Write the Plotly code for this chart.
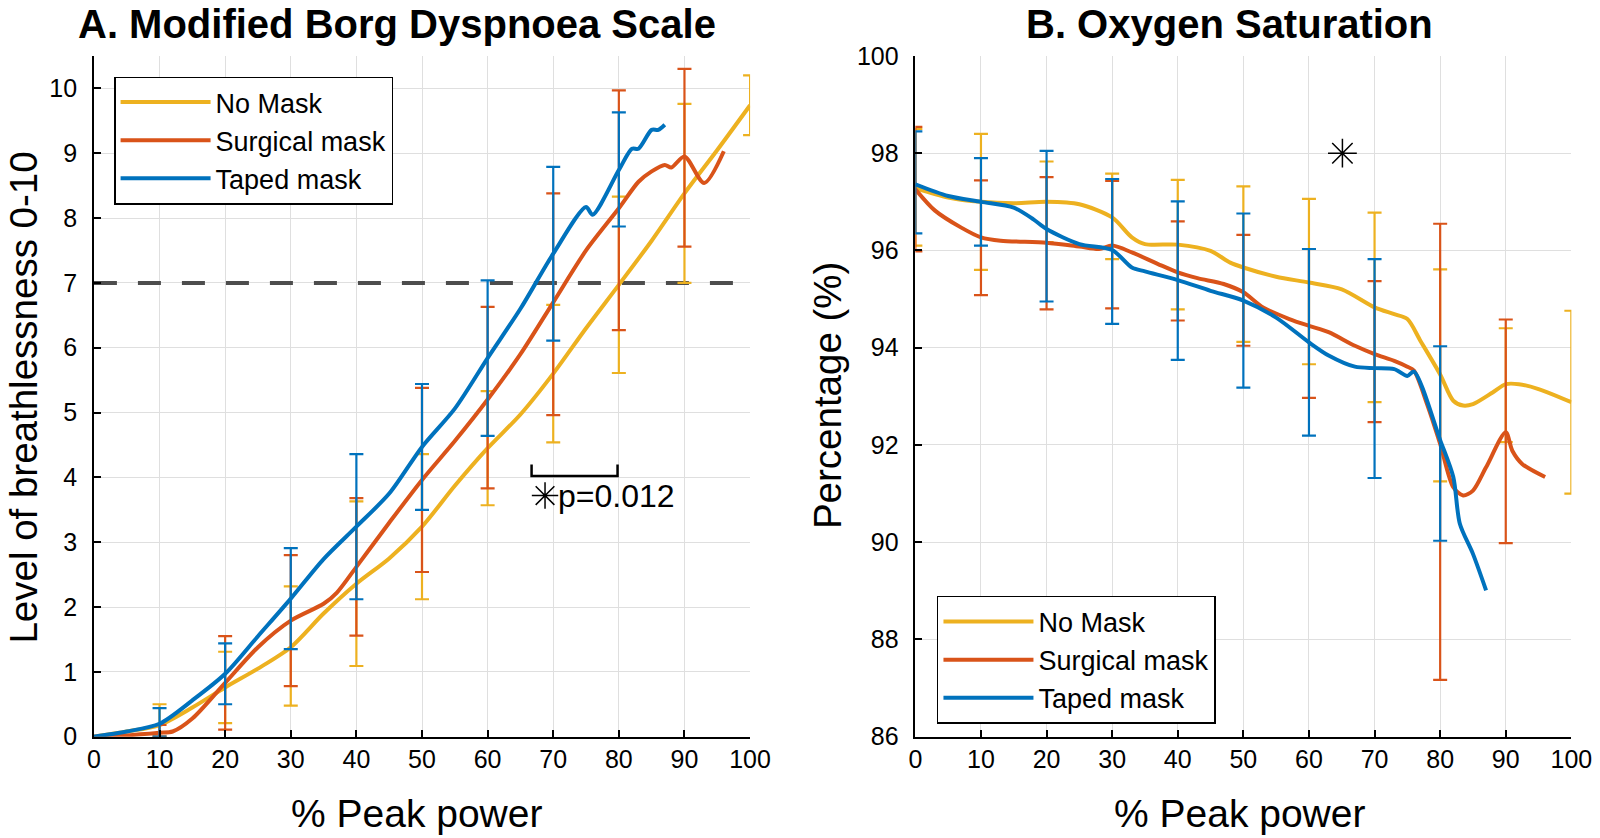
import plotly.graph_objects as go

# ---------------- Panel A: Modified Borg Dyspnoea Scale ----------------
borg_nomask_x = [0, 5, 10, 15, 20, 25, 30, 35, 40, 45, 50, 55, 60, 65, 70, 75, 80, 85, 90, 95, 100]
borg_nomask_y = [0, 0.08, 0.18, 0.45, 0.76, 1.05, 1.38, 1.9, 2.36, 2.75, 3.24, 3.87, 4.45, 4.97, 5.6, 6.3, 6.97, 7.65, 8.38, 9.05, 9.74]

borg_surg_x = [0, 5, 10, 12, 15, 20, 25, 30, 35, 37, 40, 45, 50, 55, 60, 65, 70, 75, 80, 83, 85, 87, 88, 90, 93, 96]
borg_surg_y = [0, 0.02, 0.06, 0.08, 0.28, 0.83, 1.38, 1.79, 2.05, 2.22, 2.62, 3.3, 3.96, 4.56, 5.2, 5.9, 6.7, 7.5, 8.15, 8.56, 8.72, 8.82, 8.78, 8.95, 8.54, 9.03]

borg_taped_x = [0, 5, 10, 15, 20, 25, 30, 35, 40, 45, 50, 55, 60, 65, 70, 75, 76, 80, 82, 83, 85, 86, 87]
borg_taped_y = [0, 0.08, 0.2, 0.56, 0.97, 1.55, 2.13, 2.74, 3.24, 3.75, 4.47, 5.06, 5.84, 6.6, 7.45, 8.17, 8.05, 8.74, 9.07, 9.07, 9.36, 9.36, 9.44]

borg_err_nomask_x = [10, 20, 30, 40, 50, 60, 70, 80, 90, 100]
borg_err_nomask_m = [0.18, 0.76, 1.40, 2.36, 3.24, 4.45, 5.60, 6.97, 8.38, 9.74]
borg_err_nomask_up = [0.32, 0.55, 0.92, 1.27, 1.12, 0.88, 1.06, 1.36, 1.38, 0.46]
borg_err_nomask_dn = [0.18, 0.55, 0.92, 1.27, 1.12, 0.88, 1.06, 1.36, 1.38, 0.46]

borg_err_surg_x = [10, 20, 30, 40, 50, 60, 70, 80, 90]
borg_err_surg_m = [0.06, 0.83, 1.79, 2.62, 3.96, 5.23, 6.67, 8.12, 8.93]
borg_err_surg_up = [0.12, 0.72, 1.01, 1.06, 1.42, 1.40, 1.71, 1.85, 1.37]
borg_err_surg_dn = [0.06, 0.72, 1.01, 1.06, 1.42, 1.40, 1.71, 1.85, 1.37]

borg_err_taped_x = [10, 20, 30, 40, 50, 60, 70, 80]
borg_err_taped_m = [0.20, 0.97, 2.13, 3.24, 4.47, 5.84, 7.45, 8.75]
borg_err_taped_up = [0.24, 0.47, 0.78, 1.12, 0.97, 1.20, 1.34, 0.88]
borg_err_taped_dn = [0.20, 0.47, 0.78, 1.12, 0.97, 1.20, 1.34, 0.88]

borg_threshold = 7
bracket_x = [66.7, 66.7, 79.8, 79.8]
bracket_y = [4.2, 4.02, 4.02, 4.2]
borg_star_x = [68.75]
borg_star_y = [3.72]
p_label = "p=0.012"

# ---------------- Panel B: Oxygen Saturation ----------------
spo2_nomask_x = [0, 5, 10, 15, 20, 25, 30, 33, 35, 40, 45, 48, 50, 55, 60, 65, 70, 73, 75, 77, 80, 82, 83.5, 85, 88, 90, 92, 95, 100]
spo2_nomask_y = [97.28, 97.09, 97.0, 96.97, 97.0, 96.95, 96.68, 96.27, 96.13, 96.12, 95.99, 95.75, 95.65, 95.46, 95.34, 95.2, 94.83, 94.69, 94.59, 94.14, 93.45, 92.91, 92.81, 92.84, 93.08, 93.25, 93.25, 93.15, 92.88]

spo2_surg_x = [0, 3, 7, 10, 13, 20, 25, 28, 30, 33, 37, 40, 43, 47, 50, 53, 57, 60, 63, 67, 70, 73, 75, 76, 78, 80, 82, 83.5, 85, 87, 90, 91, 92.5, 96]
spo2_surg_y = [97.26, 96.82, 96.47, 96.27, 96.2, 96.16, 96.08, 96.03, 96.1, 95.96, 95.72, 95.55, 95.43, 95.31, 95.14, 94.83, 94.59, 94.45, 94.32, 94.04, 93.87, 93.73, 93.61, 93.53, 92.84, 92.02, 91.13, 90.96, 91.06, 91.54, 92.26, 91.88, 91.61, 91.34]

spo2_taped_x = [0, 5, 10, 15, 18, 20, 25, 30, 33, 35, 40, 45, 50, 55, 60, 63, 67, 70, 73, 75, 76, 80, 82, 83, 85, 87]
spo2_taped_y = [97.36, 97.12, 97.0, 96.88, 96.64, 96.44, 96.13, 96.01, 95.65, 95.57, 95.39, 95.17, 94.97, 94.62, 94.11, 93.84, 93.61, 93.58, 93.56, 93.42, 93.51, 92.1, 91.34, 90.38, 89.76, 89.01]

spo2_err_nomask_x = [0, 10, 20, 30, 40, 50, 60, 70, 80, 90, 100]
spo2_err_nomask_m = [97.3, 97.0, 97.0, 96.7, 96.12, 95.72, 95.36, 94.83, 93.43, 93.23, 92.88]
spo2_err_nomask_e = [1.2, 1.4, 0.83, 0.88, 1.33, 1.6, 1.7, 1.95, 2.18, 1.17, 1.88]

spo2_err_surg_x = [0, 10, 20, 30, 40, 50, 60, 70, 80, 90]
spo2_err_surg_m = [97.26, 96.26, 96.15, 96.12, 95.58, 95.18, 94.5, 93.92, 91.86, 92.28]
spo2_err_surg_e = [1.28, 1.18, 1.36, 1.31, 1.02, 1.14, 1.53, 1.45, 4.69, 2.3]

spo2_err_taped_x = [0, 10, 20, 30, 40, 50, 60, 70, 80]
spo2_err_taped_m = [97.4, 97.0, 96.5, 95.98, 95.38, 94.97, 94.11, 93.57, 92.03]
spo2_err_taped_e = [1.05, 0.9, 1.55, 1.49, 1.63, 1.79, 1.92, 2.25, 2.0]

spo2_star_x = [65.1]
spo2_star_y = [98.0]

series_names = ["No Mask", "Surgical mask", "Taped mask"]
colors = ["#EDB120", "#D95319", "#0072BD"]

x_ticks = [0, 10, 20, 30, 40, 50, 60, 70, 80, 90, 100]
borg_ticks = [0, 1, 2, 3, 4, 5, 6, 7, 8, 9, 10]
spo2_ticks = [86, 88, 90, 92, 94, 96, 98, 100]

FONT = "Liberation Sans, Arial, Helvetica, sans-serif"
LW = 4

fig = go.Figure()

# dashed threshold line (panel A)
fig.add_trace(go.Scatter(x=[x_ticks[0], x_ticks[-1]], y=[borg_threshold, borg_threshold],
                         mode="lines", line=dict(color="#4D4D4D", width=4, dash="23px,21px"),
                         showlegend=False, hoverinfo="skip", xaxis="x", yaxis="y"))

borg_lines = [(borg_nomask_x, borg_nomask_y), (borg_surg_x, borg_surg_y), (borg_taped_x, borg_taped_y)]
borg_errs = [(borg_err_nomask_x, borg_err_nomask_m, borg_err_nomask_up, borg_err_nomask_dn),
             (borg_err_surg_x, borg_err_surg_m, borg_err_surg_up, borg_err_surg_dn),
             (borg_err_taped_x, borg_err_taped_m, borg_err_taped_up, borg_err_taped_dn)]
spo2_lines = [(spo2_nomask_x, spo2_nomask_y), (spo2_surg_x, spo2_surg_y), (spo2_taped_x, spo2_taped_y)]
spo2_errs = [(spo2_err_nomask_x, spo2_err_nomask_m, spo2_err_nomask_e),
             (spo2_err_surg_x, spo2_err_surg_m, spo2_err_surg_e),
             (spo2_err_taped_x, spo2_err_taped_m, spo2_err_taped_e)]

for i in range(3):
    ex, em, eu, ed = borg_errs[i]
    fig.add_trace(go.Scatter(x=ex, y=em, mode="markers", marker=dict(size=1, opacity=0, color=colors[i]),
                             error_y=dict(type="data", array=eu, arrayminus=ed, symmetric=False,
                                          visible=True, color=colors[i], thickness=2.2, width=7),
                             cliponaxis=False,
                             showlegend=False, hoverinfo="skip", xaxis="x", yaxis="y"))
    lx, ly = borg_lines[i]
    fig.add_trace(go.Scatter(x=lx, y=ly, mode="lines", name=series_names[i],
                             line=dict(color=colors[i], width=LW, shape="spline", smoothing=0.8),
                             legend="legend", xaxis="x", yaxis="y"))

for i in range(3):
    ex, em, ee = spo2_errs[i]
    fig.add_trace(go.Scatter(x=ex, y=em, mode="markers", marker=dict(size=1, opacity=0, color=colors[i]),
                             error_y=dict(type="data", array=ee, visible=True, color=colors[i],
                                          thickness=2.2, width=7),
                             cliponaxis=False,
                             showlegend=False, hoverinfo="skip", xaxis="x2", yaxis="y2"))
    lx, ly = spo2_lines[i]
    fig.add_trace(go.Scatter(x=lx, y=ly, mode="lines", name=series_names[i],
                             line=dict(color=colors[i], width=LW, shape="spline", smoothing=0.8),
                             legend="legend2", xaxis="x2", yaxis="y2"))

# significance bracket and asterisks
fig.add_trace(go.Scatter(x=bracket_x, y=bracket_y, mode="lines", line=dict(color="black", width=2.5),
                         showlegend=False, hoverinfo="skip", xaxis="x", yaxis="y"))
fig.add_trace(go.Scatter(x=borg_star_x, y=borg_star_y, mode="markers",
                         marker=dict(symbol="asterisk-open", size=22, color="black",
                                     line=dict(color="black", width=1.5)),
                         showlegend=False, hoverinfo="skip", xaxis="x", yaxis="y"))
fig.add_trace(go.Scatter(x=spo2_star_x, y=spo2_star_y, mode="markers",
                         marker=dict(symbol="asterisk-open", size=24, color="black",
                                     line=dict(color="black", width=1.5)),
                         showlegend=False, hoverinfo="skip", xaxis="x2", yaxis="y2"))

axis_common = dict(showgrid=True, gridcolor="#DFDFDF", gridwidth=1.2, zeroline=False,
                   showline=True, linecolor="black", linewidth=1.5, automargin=False,
                   ticks="inside", ticklen=7, tickwidth=1.5, tickcolor="black",
                   tickfont=dict(family=FONT, size=25, color="black"))

y_top = 0.9332
y_bot = 0.1209
fig.update_layout(
    width=1600, height=838,
    margin=dict(l=0, r=0, t=0, b=0),
    paper_bgcolor="white", plot_bgcolor="white",
    font=dict(family=FONT, color="black"),
    xaxis=dict(domain=[0.0587, 0.4688], range=[0, 100], tickvals=x_ticks, anchor="y", **axis_common),
    yaxis=dict(domain=[y_bot, y_top], range=[0, 10.5], tickvals=borg_ticks, anchor="x",
               ticklabelstandoff=10, **axis_common),
    xaxis2=dict(domain=[0.5721, 0.9821], range=[0, 100], tickvals=x_ticks, anchor="y2", **axis_common),
    yaxis2=dict(domain=[y_bot, y_top], range=[86, 100], tickvals=spo2_ticks, anchor="x2",
                ticklabelstandoff=10, **axis_common),
    legend=dict(x=0.0713, y=0.9087, xanchor="left", yanchor="top",
                bgcolor="white", bordercolor="black", borderwidth=1.5,
                font=dict(family=FONT, size=27, color="black"), itemwidth=90, tracegroupgap=0),
    legend2=dict(x=0.5856, y=0.2888, xanchor="left", yanchor="top",
                 bgcolor="white", bordercolor="black", borderwidth=1.5,
                 font=dict(family=FONT, size=27, color="black"), itemwidth=90, tracegroupgap=0),
    showlegend=True,
)

annotations = [
    dict(text="<b>A. Modified Borg Dyspnoea Scale</b>", x=0.2481, y=1.0, xref="paper", yref="paper",
         xanchor="center", yanchor="top", showarrow=False, font=dict(family=FONT, size=40, color="black")),
    dict(text="<b>B. Oxygen Saturation</b>", x=0.7685, y=1.0, xref="paper", yref="paper",
         xanchor="center", yanchor="top", showarrow=False, font=dict(family=FONT, size=40, color="black")),
    dict(text="% Peak power", x=0.2606, y=0.0298, xref="paper", yref="paper",
         xanchor="center", yanchor="middle", showarrow=False, font=dict(family=FONT, size=39, color="black")),
    dict(text="% Peak power", x=0.7744, y=0.0298, xref="paper", yref="paper",
         xanchor="center", yanchor="middle", showarrow=False, font=dict(family=FONT, size=39, color="black")),
    dict(text="Level of breathlessness 0-10", x=0.0141, y=0.525, xref="paper", yref="paper", textangle=-90,
         xanchor="center", yanchor="middle", showarrow=False, font=dict(family=FONT, size=38.5, color="black")),
    dict(text="Percentage (%)", x=0.5169, y=0.5286, xref="paper", yref="paper", textangle=-90,
         xanchor="center", yanchor="middle", showarrow=False, font=dict(family=FONT, size=38.5, color="black")),
    dict(text=p_label, x=borg_star_x[0] + 1.6, y=borg_star_y[0], xref="x", yref="y",
         xanchor="left", yanchor="middle", showarrow=False, font=dict(family=FONT, size=32, color="black")),
]
fig.update_layout(annotations=annotations)

fig.write_html("out.html", config={"displayModeBar": False},
               post_script="document.body.style.margin='0';document.body.style.overflow='hidden';")
